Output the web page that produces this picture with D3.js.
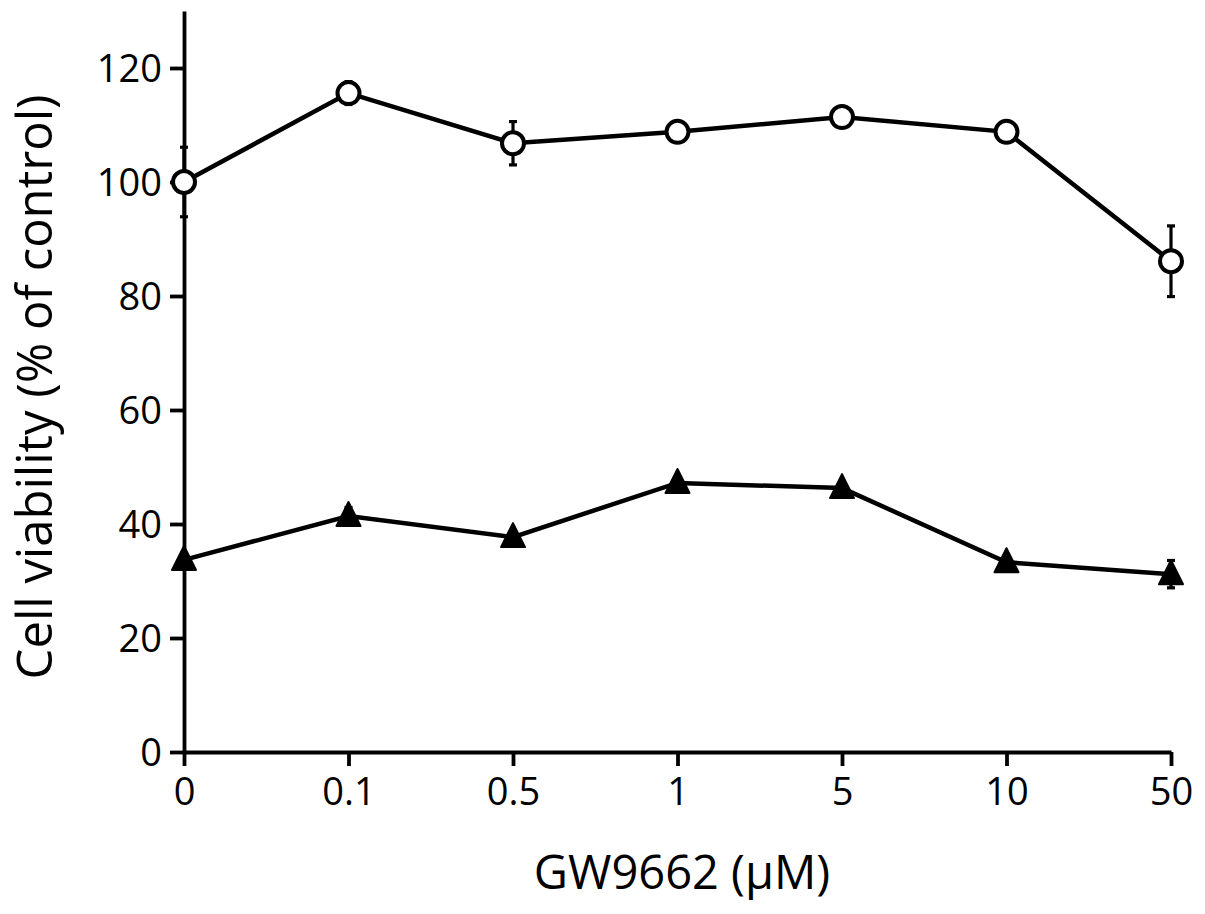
<!DOCTYPE html>
<html>
<head>
<meta charset="utf-8">
<script src="https://d3js.org/d3.v7.min.js"></script>
<style>
  body { margin: 0; background: #fff; }
  svg { display: block; }
  text { font-family: "Open Sans", sans-serif; fill: #000; }
</style>
</head>
<body>
<div id="graph"></div>
<script>
// GW9662 dose (uM) - shown as evenly spaced categories
var doses = ["0", "0.1", "0.5", "1", "5", "10", "50"];

// open circles
var circleMean = [100, 115.6, 106.8, 108.8, 111.4, 108.8, 86.1];
var circleErr  = [6.1, 2.0, 3.8, 1.0, 1.0, 1.0, 6.2];

// filled triangles
var triMean = [33.7, 41.4, 37.7, 47.2, 46.3, 33.3, 31.2];
var triErr  = [1.0, 1.5, 1.0, 1.0, 1.0, 1.0, 2.4];

var yTicks = [0, 20, 40, 60, 80, 100, 120];

const fullwidth = 1205;
const fullheight = 914;

var svg = d3.select("#graph").append("svg")
  .attr("width", fullwidth)
  .attr("height", fullheight);

var xScale = d3.scalePoint()
  .domain(doses)
  .range([184, 1171]);

var yScale = d3.scaleLinear()
  .domain([0, 130])
  .range([752, 11]);

var yAxis = d3.axisLeft(yScale)
  .tickValues(yTicks)
  .tickSize(14)
  .tickSizeOuter(0)
  .tickPadding(8);

var xAxis = d3.axisBottom(xScale)
  .tickSize(14)
  .tickSizeOuter(0)
  .tickPadding(6);

var gy = svg.append("g")
  .attr("transform", "translate(184,0)")
  .call(yAxis);

var gx = svg.append("g")
  .attr("transform", "translate(0,752)")
  .call(xAxis);

[gx, gy].forEach(function(g) {
  g.selectAll("path, line").attr("stroke", "#000").attr("stroke-width", 3.8);
  g.selectAll("text").style("font-size", "38px").attr("fill", "#000");
});
gy.selectAll("text").attr("dy", "0.36em");
gx.selectAll("text").attr("dy", "0.88em");

// axis titles
svg.append("text")
  .attr("x", 682)
  .attr("y", 889)
  .attr("text-anchor", "middle")
  .style("font-size", "47px")
  .text("GW9662 (\u03BCM)");

svg.append("text")
  .attr("transform", "translate(52,387) rotate(-90)")
  .attr("text-anchor", "middle")
  .style("font-size", "49px")
  .text("Cell viability (% of control)");

var line = d3.line()
  .x(function(d, i) { return xScale(doses[i]); })
  .y(function(d) { return yScale(d); });

function drawSeries(mean, err, shape) {
  var g = svg.append("g");
  // error bars
  var eb = g.selectAll(".err").data(mean).enter().append("g")
    .attr("stroke", "#000").attr("stroke-width", 3.2);
  eb.append("line")
    .attr("x1", (d, i) => xScale(doses[i]))
    .attr("x2", (d, i) => xScale(doses[i]))
    .attr("y1", (d, i) => yScale(d + err[i]))
    .attr("y2", (d, i) => yScale(d - err[i]));
  eb.append("line")
    .attr("x1", (d, i) => xScale(doses[i]) - 4)
    .attr("x2", (d, i) => xScale(doses[i]) + 4)
    .attr("y1", (d, i) => yScale(d + err[i]))
    .attr("y2", (d, i) => yScale(d + err[i]));
  eb.append("line")
    .attr("x1", (d, i) => xScale(doses[i]) - 4)
    .attr("x2", (d, i) => xScale(doses[i]) + 4)
    .attr("y1", (d, i) => yScale(d - err[i]))
    .attr("y2", (d, i) => yScale(d - err[i]));

  g.append("path")
    .datum(mean)
    .attr("d", line)
    .attr("fill", "none")
    .attr("stroke", "#000")
    .attr("stroke-width", 4.5);

  if (shape == "circle") {
    g.selectAll(".dot").data(mean).enter().append("circle")
      .attr("cx", (d, i) => xScale(doses[i]))
      .attr("cy", d => yScale(d))
      .attr("r", 11)
      .attr("fill", "#fff")
      .attr("stroke", "#000")
      .attr("stroke-width", 4);
  } else {
    g.selectAll(".tri").data(mean).enter().append("path")
      .attr("d", "M0,-14 L12,10 L-12,10 Z")
      .attr("transform", (d, i) => "translate(" + xScale(doses[i]) + "," + yScale(d) + ")")
      .attr("fill", "#000")
      .attr("stroke", "#000")
      .attr("stroke-width", 2)
      .attr("stroke-linejoin", "round");
  }
}

drawSeries(circleMean, circleErr, "circle");
drawSeries(triMean, triErr, "triangle");
</script>
</body>
</html>
